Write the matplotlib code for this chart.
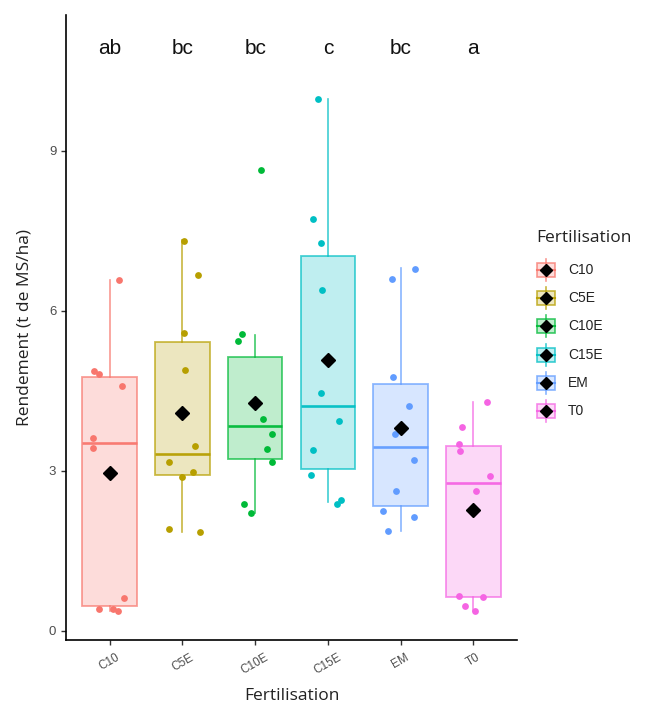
import matplotlib
matplotlib.use("Agg")
import matplotlib.pyplot as plt
from matplotlib.patches import Rectangle

# groupes de fertilisation
groupes = ["C10", "C5E", "C10E", "C15E", "EM", "T0"]
couleurs = ["#F8766D", "#B79F00", "#00BA38", "#00BFC4", "#619CFF", "#F564E3"]
lettres = ["ab", "bc", "bc", "c", "bc", "a"]

# statistiques des boites (t de MS/ha)
q1 = [0.46, 2.92, 3.23, 3.04, 2.34, 0.64]
mediane = [3.52, 3.31, 3.84, 4.21, 3.44, 2.77]
q3 = [4.76, 5.41, 5.13, 7.04, 4.63, 3.47]
moust_bas = [0.38, 1.86, 2.22, 2.41, 1.88, 0.37]
moust_haut = [6.58, 7.33, 5.55, 9.98, 6.80, 4.29]
moyenne = [2.97, 4.08, 4.27, 5.08, 3.81, 2.27]

# observations individuelles
rdt_C10 = [6.58, 4.88, 4.81, 4.60, 3.61, 3.43, 0.61, 0.41, 0.42, 0.38]
rdt_C5E = [7.31, 6.68, 5.58, 4.90, 3.46, 3.16, 2.98, 2.89, 1.92, 1.85]
rdt_C10E = [8.65, 5.56, 5.44, 3.97, 3.69, 3.41, 3.16, 2.38, 2.22]
rdt_C15E = [9.98, 7.72, 7.28, 6.39, 4.46, 3.94, 3.39, 2.92, 2.38, 2.46]
rdt_EM = [6.79, 6.60, 4.76, 4.22, 3.69, 3.21, 2.62, 2.24, 2.14, 1.88]
rdt_T0 = [4.29, 3.83, 3.50, 3.38, 2.90, 2.62, 0.66, 0.64, 0.47, 0.37]
observations = [rdt_C10, rdt_C5E, rdt_C10E, rdt_C15E, rdt_EM, rdt_T0]

# decalage horizontal (jitter) de chaque point
jit_C10 = [0.13, -0.21, -0.14, 0.17, -0.23, -0.23, 0.20, -0.14, 0.04, 0.12]
jit_C5E = [0.02, 0.21, 0.02, 0.03, 0.17, -0.18, 0.15, 0.00, -0.18, 0.24]
jit_C10E = [0.08, -0.18, -0.24, 0.11, 0.23, 0.17, 0.23, -0.15, -0.05]
jit_C15E = [-0.14, -0.21, -0.10, -0.08, -0.10, 0.15, -0.21, -0.23, 0.13, 0.18]
jit_EM = [0.20, -0.12, -0.10, 0.12, -0.08, 0.19, -0.07, -0.24, 0.19, -0.18]
jit_T0 = [0.19, -0.16, -0.20, -0.18, 0.23, 0.04, -0.20, 0.13, -0.11, 0.02]
jitters = [jit_C10, jit_C5E, jit_C10E, jit_C15E, jit_EM, jit_T0]

fig = plt.figure(figsize=(6.53, 7.13), dpi=100)
ax = fig.add_axes([66 / 653, 1 - 640 / 713, (517 - 66) / 653, (640 - 15) / 713])

gris = "#4D4D4D"
for i, g in enumerate(groupes):
    pos = i + 1
    c = couleurs[i]
    stats = [{"q1": q1[i], "med": mediane[i], "q3": q3[i],
              "whislo": moust_bas[i], "whishi": moust_haut[i],
              "fliers": [], "label": g}]
    ax.bxp(stats, positions=[pos], widths=0.75, patch_artist=True,
           showcaps=False, showfliers=False,
           boxprops=dict(facecolor=c, alpha=0.25, edgecolor="none"),
           whiskerprops=dict(color=c, lw=1.2, alpha=0.75),
           medianprops=dict(color=c, lw=1.9, alpha=0.95))
    # contour de la boite
    ax.bxp(stats, positions=[pos], widths=0.75, patch_artist=True,
           showcaps=False, showfliers=False,
           boxprops=dict(facecolor="none", edgecolor=c, lw=1.3, alpha=0.7),
           whiskerprops=dict(color="none"), medianprops=dict(color="none"))
    xs = [pos + d for d in jitters[i]]
    ax.scatter(xs, observations[i], s=24, color=c, zorder=3, linewidths=0)
    ax.plot(pos, moyenne[i], marker="D", color="black", ms=7, zorder=4)
    ax.text(pos, 10.93, lettres[i], ha="center", va="center",
            fontsize=15, family="Liberation Sans", color="#111111")

ax.set_xlim(0.4, 6.6)
ax.set_ylim(-0.17, 11.55)
ax.set_yticks([0, 3, 6, 9])
ax.set_xticks(range(1, 7))
ax.set_xticklabels(groupes, rotation=30, family="Liberation Sans",
                   fontsize=8.5, color=gris)
for t in ax.get_yticklabels():
    t.set_family("Liberation Sans")
    t.set_fontsize(9.5)
    t.set_color(gris)
ax.tick_params(axis="both", length=3.5, width=1, color="#333333")
ax.tick_params(axis="x", pad=5)
ax.spines["top"].set_visible(False)
ax.spines["right"].set_visible(False)
ax.spines["left"].set_linewidth(1.2)
ax.spines["bottom"].set_linewidth(1.2)
ax.set_xlabel("Fertilisation", family="Open Sans", fontsize=12.5,
              color="#222222", labelpad=8)
ax.set_ylabel("Rendement (t de MS/ha)", family="Open Sans", fontsize=12.5,
              color="#222222", labelpad=12)

# legende dessinee a la main, coordonnees en pixels
lax = fig.add_axes([0, 0, 1, 1])
lax.set_xlim(0, 653)
lax.set_ylim(713, 0)
lax.axis("off")
lax.text(536, 238, "Fertilisation", family="Open Sans", fontsize=12.5,
         color="#222222", ha="left", va="center")
for i, g in enumerate(groupes):
    yc = 270 + 28.2 * i
    c = couleurs[i]
    lax.plot([546, 546], [yc - 11, yc + 11], color=c, lw=1.2, alpha=0.75)
    lax.add_patch(Rectangle((537, yc - 7), 18, 14, facecolor=c, alpha=0.25,
                            edgecolor="none"))
    lax.add_patch(Rectangle((537, yc - 7), 18, 14, facecolor="none",
                            edgecolor=c, lw=1.2, alpha=0.75))
    lax.plot([537, 555], [yc, yc], color=c, lw=1.5, alpha=0.9)
    lax.plot(546, yc, marker="D", color="black", ms=6)
    lax.text(568, yc, g, family="Liberation Sans", fontsize=10,
             color="#222222", ha="left", va="center")

fig.savefig("out.png", dpi=100)
